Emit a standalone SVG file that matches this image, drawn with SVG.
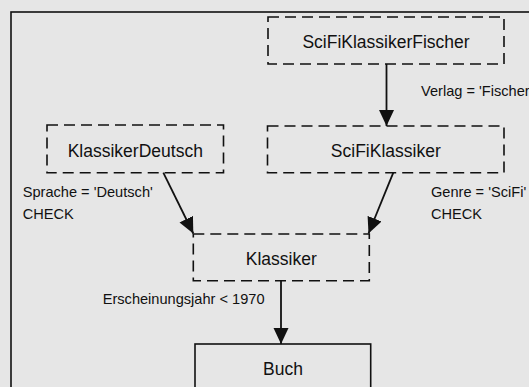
<svg xmlns="http://www.w3.org/2000/svg" width="529" height="387" viewBox="0 0 529 387">
<style>
.node{fill:none;stroke:#111;stroke-width:1.6;stroke-dasharray:11 6}
.solid{fill:none;stroke:#111;stroke-width:1.6}
.nt{font-family:"Liberation Sans",Arial,sans-serif;font-size:17.5px;fill:#111;text-anchor:middle}
.lt{font-family:"Liberation Sans",Arial,sans-serif;font-size:14.6px;fill:#111}
.edge{stroke:#111;stroke-width:1.8;fill:none;marker-end:url(#arr)}
</style>
<defs>
<marker id="arr" markerUnits="userSpaceOnUse" markerWidth="17" markerHeight="16" refX="16" refY="7.5" orient="auto">
<path d="M0,0 L16,7.5 L0,15 Z" fill="#111"/>
</marker>
</defs>
<rect x="0" y="0" width="529" height="387" fill="#e6e6e6"/>
<rect x="11" y="12" width="540" height="400" fill="none" stroke="#111" stroke-width="1.6"/>
<g id="connectors">
<line class="edge" x1="386.5" y1="64" x2="386.5" y2="126"/>
<line class="edge" x1="163.3" y1="172.7" x2="193.3" y2="233.5"/>
<line class="edge" x1="393.3" y1="172.7" x2="368.5" y2="233.5"/>
<line class="edge" x1="281" y1="280.7" x2="281" y2="344"/>
<text class="lt" x="421" y="96">Verlag = 'Fischer</text>
<text class="lt" x="22.7" y="196.7">Sprache = 'Deutsch'</text>
<text class="lt" x="22.7" y="219">CHECK</text>
<text class="lt" x="431" y="196.7">Genre = 'SciFi'</text>
<text class="lt" x="431" y="219">CHECK</text>
<text class="lt" x="102.7" y="304">Erscheinungsjahr &lt; 1970</text>
</g>
<g id="SciFiKlassikerFischer">
<rect class="node" x="268" y="17" width="236" height="47"/>
<text class="nt" x="386" y="48">SciFiKlassikerFischer</text>
</g>
<g id="KlassikerDeutsch">
<rect class="node" x="47" y="125" width="176.5" height="47.7"/>
<text class="nt" x="135.3" y="156.5">KlassikerDeutsch</text>
</g>
<g id="SciFiKlassiker">
<rect class="node" x="267.5" y="126" width="236.5" height="46.7"/>
<text class="nt" x="385.8" y="157">SciFiKlassiker</text>
</g>
<g id="Klassiker">
<rect class="node" x="193.3" y="234" width="176" height="46.7"/>
<text class="nt" x="281.3" y="265">Klassiker</text>
</g>
<g id="Buch">
<rect class="solid" x="195" y="344" width="175.7" height="47"/>
<text class="nt" x="283" y="375">Buch</text>
</g>
</svg>
